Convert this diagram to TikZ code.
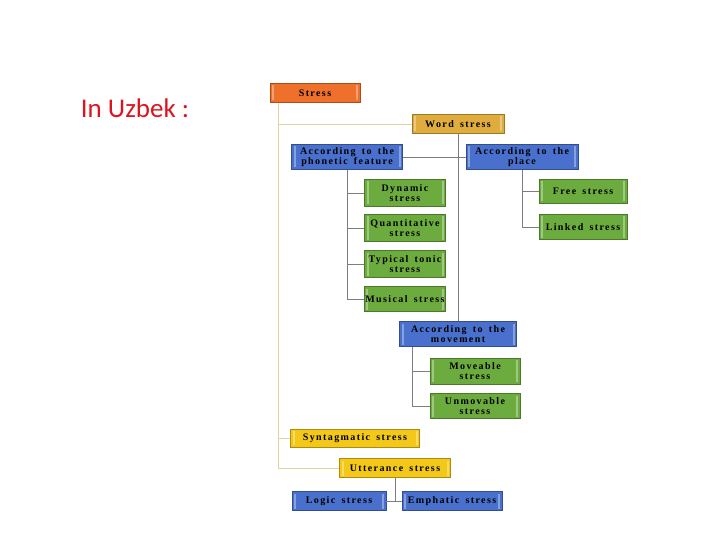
\documentclass[tikz,border=0pt]{standalone}
\usepackage{fontspec}
\setmainfont{Liberation Serif}
\newfontfamily\labelfont{Carlito}
\newfontfamily\boxfont[LetterSpace=14,WordSpace=1.6]{Liberation Serif}
\definecolor{stressorange}{RGB}{238,112,42}
\definecolor{stressgold}{RGB}{224,172,62}
\definecolor{stressblue}{RGB}{72,112,204}
\definecolor{stressgreen}{RGB}{108,172,62}
\definecolor{stressyellow}{RGB}{244,200,24}
\definecolor{trunkline}{RGB}{222,212,160}
\definecolor{branchline}{RGB}{125,125,125}
\definecolor{uzred}{RGB}{220,20,30}
\tikzset{
  stressbox/.style={draw=#1!70!black,fill=#1,line width=0.6pt,inner sep=1pt,
    align=center,font=\boxfont\bfseries\fontsize{10}{10.2}\selectfont,
    path picture={
      \fill[white,opacity=0.35] ([xshift=2pt,yshift=2pt]path picture bounding box.south west) rectangle ++(2pt,\pgfkeysvalueof{/pgf/minimum height}-4pt);
      \fill[white,opacity=0.35] ([xshift=-2pt,yshift=2pt]path picture bounding box.south east) rectangle ++(-2pt,\pgfkeysvalueof{/pgf/minimum height}-4pt);
    }},
  link/.style={draw=branchline,line width=0.5pt},
  trunk/.style={draw=trunkline,line width=0.8pt}
}
\begin{document}
\begin{tikzpicture}[x=1pt,y=-1pt]
\useasboundingbox (0,0) rectangle (720,540);

\node[text=uzred,font=\labelfont\fontsize{27}{27}\selectfont] (uzbek) at (135,108) {In Uzbek :};

\node[stressbox=stressorange,minimum width=90pt,minimum height=19pt] (stress) at (315,93) {Stress};
\node[stressbox=stressgold,minimum width=92pt,minimum height=19pt] (word) at (458,124) {Word stress};
\node[stressbox=stressblue,minimum width=111pt,minimum height=25pt] (phon) at (347,157) {According to the\\phonetic feature};
\node[stressbox=stressblue,minimum width=112pt,minimum height=25pt] (place) at (522,157) {According to the\\place};
\node[stressbox=stressgreen,minimum width=81pt,minimum height=27pt] (dyn) at (405,193) {Dynamic\\stress};
\node[stressbox=stressgreen,minimum width=81pt,minimum height=27pt] (quant) at (405,228) {Quantitative\\stress};
\node[stressbox=stressgreen,minimum width=81pt,minimum height=27pt] (tonic) at (405,264) {Typical tonic\\stress};
\node[stressbox=stressgreen,minimum width=81pt,minimum height=25pt] (music) at (405,299) {Musical stress};
\node[stressbox=stressgreen,minimum width=88pt,minimum height=24pt] (free) at (583,191) {Free stress};
\node[stressbox=stressgreen,minimum width=88pt,minimum height=25pt] (linked) at (583,227) {Linked stress};
\node[stressbox=stressblue,minimum width=117pt,minimum height=25pt] (move) at (458,334) {According to the\\movement};
\node[stressbox=stressgreen,minimum width=90pt,minimum height=26pt] (moveable) at (475,371) {Moveable\\stress};
\node[stressbox=stressgreen,minimum width=90pt,minimum height=25pt] (unmovable) at (475,406) {Unmovable\\stress};
\node[stressbox=stressyellow,minimum width=129pt,minimum height=18pt] (syn) at (355,438) {Syntagmatic stress};
\node[stressbox=stressyellow,minimum width=111pt,minimum height=19pt] (utt) at (395,468) {Utterance stress};
\node[stressbox=stressblue,minimum width=94pt,minimum height=19pt] (logic) at (339,501) {Logic stress};
\node[stressbox=stressblue,minimum width=100pt,minimum height=19pt] (emph) at (452,501) {Emphatic stress};

\coordinate (stresstrunk) at (278,103);
\coordinate (movetrunk) at (412,347);

\begin{scope}[on background layer/.try]
\path[trunk] (stresstrunk) |- (word.west);
\path[trunk] (stresstrunk) |- (syn.west);
\path[trunk] (stresstrunk) |- (utt.west);
\path[link] (word.south) -- (move.north);
\path[link] (phon.east) -- (place.west);
\path[link] (phon.south) |- (dyn.west);
\path[link] (phon.south) |- (quant.west);
\path[link] (phon.south) |- (tonic.west);
\path[link] (phon.south) |- (music.west);
\path[link] (place.south) |- (free.west);
\path[link] (place.south) |- (linked.west);
\path[link] (movetrunk) |- (moveable.west);
\path[link] (movetrunk) |- (unmovable.west);
\path[link] (utt.south) -- (utt.south |- logic.east);
\path[link] (logic.east) -- (emph.west);
\end{scope}
\end{tikzpicture}
\end{document}
